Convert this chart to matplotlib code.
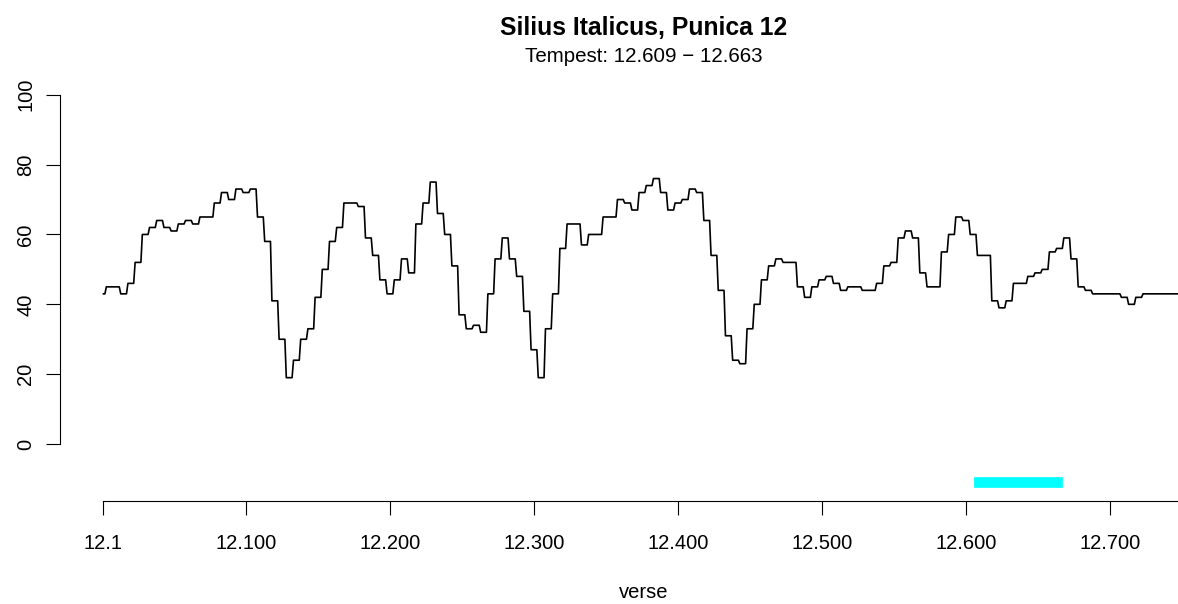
import numpy as np
import matplotlib
matplotlib.use('Agg')
import matplotlib.pyplot as plt

plt.rcParams['font.family'] = ['Liberation Sans', 'DejaVu Sans']

# first two verses, then one value per 5-verse chunk (verse 3 onward)
start_vals = [43, 43]
chunk_len = 5
chunk_vals = [45, 45, 43, 46, 52, 60, 62, 64, 62, 61, 63, 64, 63, 65, 65,
              69, 72, 70, 73, 72, 73, 65, 58, 41, 30, 19, 24, 30, 33, 42,
              50, 58, 62, 69, 69, 68, 59, 54, 47, 43, 47, 53, 49, 63, 69,
              75, 66, 60, 51,
              37, 33, 34, 32, 43, 53, 59, 53, 48, 38, 27, 19, 33, 43, 56,
              63, 63, 57, 60, 60, 65, 65,
              70, 69, 67, 72, 74, 76, 72, 67, 69, 70, 73, 72, 64, 54, 44,
              31, 24, 23, 33, 40, 47, 51, 53,
              52, 52, 45, 42, 45, 47, 48, 46, 44, 45, 45, 44, 44, 46, 51,
              52, 59, 61, 59, 49, 45, 45, 55, 60,
              65, 64, 60, 54, 54, 41, 39, 41, 46, 46, 48, 49, 50, 55, 56,
              59, 53, 45, 44, 43, 43, 43, 43, 42, 40, 42, 43, 43, 43, 43,
              43, 43]

tick_pos = [1, 100, 200, 300, 400, 500, 600, 700]
tick_lab = ['12.1', '12.100', '12.200', '12.300', '12.400', '12.500', '12.600', '12.700']
y_ticks = [0, 20, 40, 60, 80, 100]

tempest_start = 609
tempest_end = 663
tempest_y = -11

y = np.concatenate([start_vals, np.repeat(chunk_vals, chunk_len)])
x = np.arange(1, len(y) + 1)

fig = plt.figure(figsize=(11.78, 6.04), dpi=100)
ax = fig.add_axes([60.2 / 1178, 103 / 604, (1228 - 60.2) / 1178, 422 / 604])

ax.plot(x, y, color='black', linewidth=1.2)
ax.plot([tempest_start, tempest_end], [tempest_y, tempest_y], color='#00ffff',
        linewidth=7.7, solid_capstyle='projecting')

n = len(y)
ax.set_xlim(1 - 0.04 * (n - 1), n + 0.04 * (n - 1))
ax.set_ylim(-16.3, 104.5)

for s in ['top', 'right']:
    ax.spines[s].set_visible(False)
ax.spines['left'].set_bounds(0, 100)
ax.spines['bottom'].set_bounds(1, n)
for s in ['left', 'bottom']:
    ax.spines[s].set_linewidth(0.8)

ax.set_xticks(tick_pos)
ax.set_xticklabels(tick_lab)
ax.set_yticks(y_ticks)
ax.set_yticklabels([str(v) for v in y_ticks], rotation=90, va='center')
ax.tick_params(axis='both', direction='out', length=10, width=0.8, labelsize=14.5)
ax.tick_params(axis='x', pad=14)
ax.tick_params(axis='y', pad=8)

fig.text(644 / 1178, 1 - 28 / 604, 'Silius Italicus, Punica 12', ha='center', va='center',
         fontsize=17.8, fontweight='bold')
fig.text(644 / 1178, 1 - 57 / 604, 'Tempest: 12.609 \u2212 12.663', ha='center', va='center',
         fontsize=14.8)
fig.text(644 / 1178, 1 - 593 / 604, 'verse', ha='center', va='center', fontsize=14.5)

plt.savefig('out.png', dpi=100)
